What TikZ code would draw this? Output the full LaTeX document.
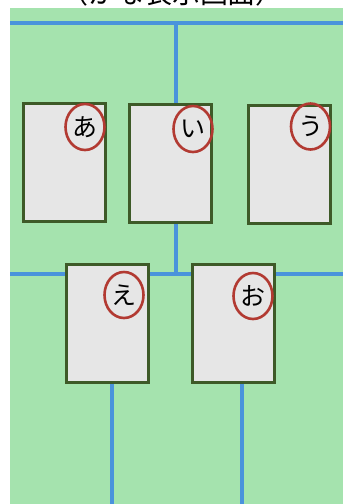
\documentclass[tikz,border=0pt]{standalone}
\usepackage{fontspec}
\newfontfamily\jpfont{Noto Sans CJK JP}
\usetikzlibrary{shapes.geometric}
\definecolor{board}{HTML}{A5E3AE}
\definecolor{wire}{HTML}{4A93DC}
\definecolor{cardface}{HTML}{E6E6E6}
\definecolor{cardedge}{HTML}{3E5A28}
\definecolor{ring}{HTML}{B23A32}
\begin{document}
\begin{tikzpicture}[x=1pt,y=-1pt,
  card/.style={draw=cardedge, fill=cardface, line width=3pt, rectangle,
    minimum width=82pt, minimum height=118pt, inner sep=0pt},
  kana/.style={draw=ring, line width=2.6pt, ellipse, minimum width=39pt,
    minimum height=46pt, inner sep=0pt, font=\jpfont\fontsize{25}{25}\selectfont},
  wireline/.style={draw=wire, line width=3.4pt}]
\useasboundingbox (0,0) rectangle (343,504);
\clip (0,0) rectangle (343,504);
% board
\fill[board] (10,8) rectangle (343,504);
% caption above the board
\node[anchor=base, font=\jpfont\fontsize{28}{28}\selectfont, inner sep=0pt] (title) at (172,3.5) {（かな表示画面）};
% anchor points of the wiring
\coordinate (topL) at (10,23);
\coordinate (topR) at (343,23);
\coordinate (topT) at (176,23);
\coordinate (midL) at (10,274);
\coordinate (midR) at (343,274);
\coordinate (midT) at (176,274);
\coordinate (botE) at (112,504);
\coordinate (botO) at (242,504);
% cards
\node[card] (a) at (64.5,162.2) {};
\node[card] (i) at (170.5,163.8) {};
\node[card] (u) at (289,164.5) {};
\node[card] (e) at (107,323.5) {};
\node[card] (o) at (233,323.3) {};
% wiring between the cards
\draw[wireline] (topL) -- (topR);
\draw[wireline] (topT) -- (topT |- i.north);
\draw[wireline] (midT |- i.south) -- (midT);
\draw[wireline] (midL) -- (e.west |- midL);
\draw[wireline] (e.east |- midL) -- (o.west |- midL);
\draw[wireline] (o.east |- midL) -- (midR);
\draw[wireline] (botE |- e.south) -- (botE);
\draw[wireline] (botO |- o.south) -- (botO);
% kana marks
\node[kana] (ka) at (85,127) {あ};
\node[kana] (ki) at (193,129) {い};
\node[kana] (ku) at (310.5,126.5) {う};
\node[kana] (ke) at (124,295) {え};
\node[kana] (ko) at (253,296) {お};
\end{tikzpicture}
\end{document}
